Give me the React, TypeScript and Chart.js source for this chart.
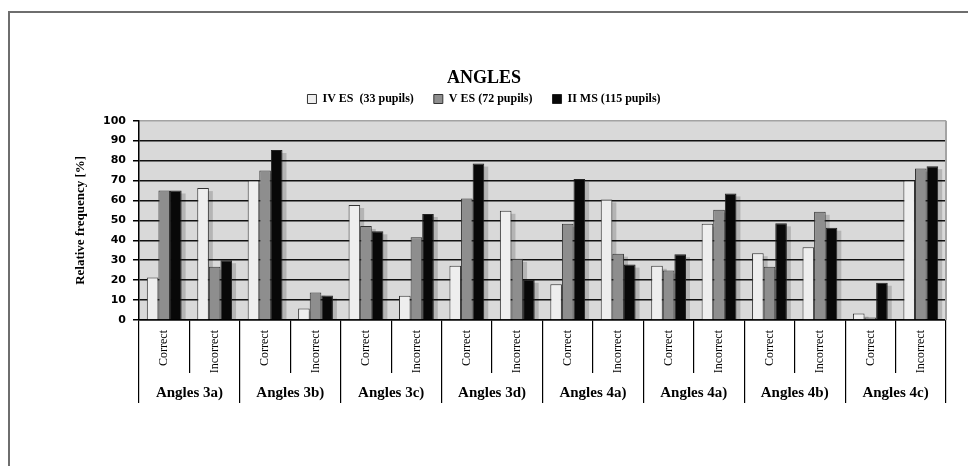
import { useEffect, useRef } from 'react';
import { Chart, registerables } from 'chart.js';

Chart.register(...registerables);

const subLabels = [
  'Correct', 'Incorrect', 'Correct', 'Incorrect', 'Correct', 'Incorrect', 'Correct', 'Incorrect',
  'Correct', 'Incorrect', 'Correct', 'Incorrect', 'Correct', 'Incorrect', 'Correct', 'Incorrect',
];
const groupLabels = [
  'Angles 3a)', 'Angles 3b)', 'Angles 3c)', 'Angles 3d)',
  'Angles 4a)', 'Angles 4a)', 'Angles 4b)', 'Angles 4c)',
];
const seriesNames = ['IV ES  (33 pupils)', 'V ES (72 pupils)', 'II MS (115 pupils)'];
const ivES = [21.3, 66.2, 70, 5.8, 57.7, 12.2, 27.2, 54.8, 18, 60.5, 27.2, 48.3, 33.5, 36.5, 3.2, 70];
const vES = [65, 26.7, 75, 13.8, 47.2, 41.5, 61, 30.7, 48.3, 33.3, 24.8, 55.3, 26.7, 54.3, 1.3, 76];
const iiMS = [65, 30, 85.3, 12.3, 44.5, 53.2, 78.5, 20.2, 70.8, 27.8, 33, 63.5, 48.5, 46.3, 18.7, 77.2];
const yMin = 0;
const yMax = 100;
const yStep = 10;

const bgPlugin = {
  id: 'plotBg',
  beforeDraw(chart: any) {
    const { ctx, chartArea: a } = chart;
    ctx.save();
    ctx.fillStyle = '#d9d9d9';
    ctx.fillRect(a.left, a.top, a.right - a.left, a.bottom - a.top);
    ctx.restore();
  },
  beforeDatasetsDraw(chart: any) {
    const { ctx, chartArea: a } = chart;
    ctx.save();
    ctx.strokeStyle = '#a3a3a3';
    ctx.lineWidth = 2;
    ctx.beginPath();
    ctx.moveTo(a.right, a.top);
    ctx.lineTo(a.right, a.bottom);
    ctx.stroke();
    ctx.fillStyle = 'rgba(0,0,0,0.17)';
    chart.data.datasets.forEach((_: any, i: number) => {
      const meta = chart.getDatasetMeta(i);
      meta.data.forEach((bar: any) => {
        const { x, y, base, width } = bar.getProps(['x', 'y', 'base', 'width'], true);
        const h = base - y - 3;
        if (h > 0) ctx.fillRect(x - width / 2 + 4, y + 3, width, h);
      });
    });
    ctx.restore();
  },
};

export default function App() {
  const ref = useRef<HTMLCanvasElement>(null);
  useEffect(() => {
    Chart.defaults.font.family = "'Liberation Serif', serif";
    Chart.defaults.color = '#000';
    const chart = new Chart(ref.current as HTMLCanvasElement, {
      type: 'bar',
      data: {
        labels: subLabels,
        datasets: [
          { label: seriesNames[0], data: ivES, backgroundColor: '#eeeeee', borderColor: '#333', borderWidth: 1, xAxisID: 'x' },
          { label: seriesNames[1], data: vES, backgroundColor: '#8e8e8e', borderColor: '#333', borderWidth: 1, xAxisID: 'x' },
          { label: seriesNames[2], data: iiMS, backgroundColor: '#080808', borderColor: '#222', borderWidth: 1, xAxisID: 'x' },
        ],
      },
      options: {
        animation: false,
        responsive: true,
        maintainAspectRatio: false,
        datasets: { bar: { categoryPercentage: 0.69, barPercentage: 1 } },
        layout: { padding: { left: 22, right: 22, top: 12, bottom: 63 } },
        plugins: {
          tooltip: { enabled: false },
          title: {
            display: true,
            text: 'ANGLES',
            font: { size: 18, weight: 'bold' },
            color: '#000',
            padding: { top: 56, bottom: -16.6 },
          },
          legend: {
            display: true,
            position: 'top',
            labels: {
              boxWidth: 9,
              boxHeight: 9,
              padding: 20,
              color: '#000',
              font: { size: 12, weight: 'bold' },
            },
          },
          subtitle: {
            display: true,
            text: ' ',
            weight: 500,
            font: { size: 1 },
            padding: { top: 0, bottom: 4.5 },
          } as any,
        },
        scales: {
          x: {
            type: 'category',
            position: 'bottom',
            weight: 0,
            offset: true,
            grid: { offset: true, drawOnChartArea: false, tickLength: 53, color: '#000', lineWidth: 1.2 },
            border: { display: true, color: '#000', width: 1.5 },
            ticks: {
              autoSkip: false,
              minRotation: 90,
              maxRotation: 90,
              padding: -43,
              color: '#000',
              font: { size: 12 },
            },
            afterFit: (s: any) => { s.height = 53; },
          },
          x2: {
            type: 'category',
            position: 'bottom',
            weight: 1,
            labels: groupLabels,
            offset: true,
            grid: { offset: true, drawOnChartArea: false, tickLength: 30, color: '#000', lineWidth: 1.2 },
            border: { display: false },
            ticks: {
              autoSkip: false,
              maxRotation: 0,
              minRotation: 0,
              padding: -19,
              color: '#000',
              font: { size: 15, weight: 'bold' },
            },
            afterFit: (s: any) => { s.height = 30; },
          },
          y: {
            min: yMin,
            max: yMax,
            ticks: {
              stepSize: yStep,
              padding: 7,
              color: '#000',
              font: { family: "'DejaVu Sans', sans-serif", size: 11, weight: 'bold' },
            },
            grid: {
              color: (c: any) => (c.tick && c.tick.value === yMax ? '#a3a3a3' : '#111'),
              tickColor: '#000',
              lineWidth: 1.5,
              tickLength: 6,
            },
            border: { display: true, color: '#000', width: 1.5 },
            title: {
              display: true,
              text: 'Relative frequency [%]',
              color: '#000',
              font: { size: 13, weight: 'bold' },
              padding: { top: 51, bottom: 0 },
            },
            afterFit: (s: any) => { s.width = 117; },
          },
        },
      } as any,
      plugins: [bgPlugin],
    });
    return () => chart.destroy();
  }, []);

  return (
    <div style={{ position: 'fixed', left: 0, top: 0, width: 968, height: 466, overflow: 'hidden', background: '#fff' }}>
      <div style={{ position: 'absolute', left: 8, top: 11, width: 1200, height: 1200, borderTop: '2px solid #6e6e6e', borderLeft: '2px solid #6e6e6e' }} />
      <div style={{ position: 'absolute', left: 0, top: 0, width: 968, height: 466 }}>
        <canvas ref={ref} />
      </div>
    </div>
  );
}
